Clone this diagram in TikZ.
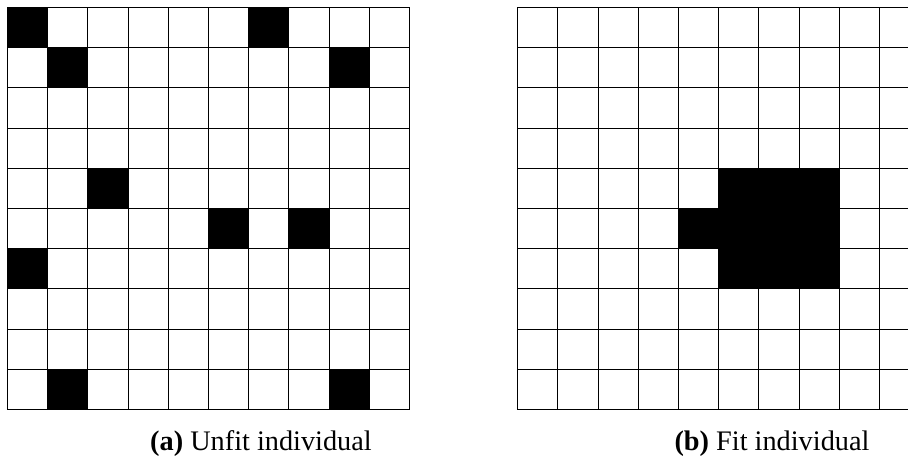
\documentclass[tikz,border=0pt]{standalone}
\usepackage{fontspec}
\setmainfont{Liberation Serif}
\begin{document}
\begin{tikzpicture}[x=1pt,y=-1pt,
  cellfill/.style={fill=black},
  gridline/.style={draw=black,line width=1.1pt},
  captext/.style={anchor=base,inner sep=0pt,font=\fontsize{28.3}{34}\selectfont}]
\useasboundingbox (0,0) rectangle (908,457);
\clip (0,0) rectangle (908,457);
% left grid (unfit)
\foreach \c/\r in {0/0,6/0,1/1,8/1,2/4,5/5,7/5,0/6,1/9,8/9}
  \fill[cellfill] (7.5+\c*40.2,7.5+\r*40.2) rectangle ++(40.2,40.2);
\foreach \i in {0,...,10} {
  \draw[gridline] (7.5+\i*40.2,7.5) -- ++(0,402);
  \draw[gridline] (7.5,7.5+\i*40.2) -- ++(402,0);
}
% right grid (fit)
\foreach \c/\r in {5/4,6/4,7/4,4/5,5/5,6/5,7/5,5/6,6/6,7/6}
  \fill[cellfill] (517.7+\c*40.2,7.5+\r*40.2) rectangle ++(40.2,40.2);
\foreach \i in {0,...,10} {
  \draw[gridline] (517.7+\i*40.2,7.5) -- ++(0,402);
  \draw[gridline] (517.7,7.5+\i*40.2) -- ++(402,0);
}
\node[captext] (capa) at (261,450) {\textbf{(a)} Unfit individual};
\node[captext] (capb) at (772,450) {\textbf{(b)} Fit individual};
\end{tikzpicture}
\end{document}
